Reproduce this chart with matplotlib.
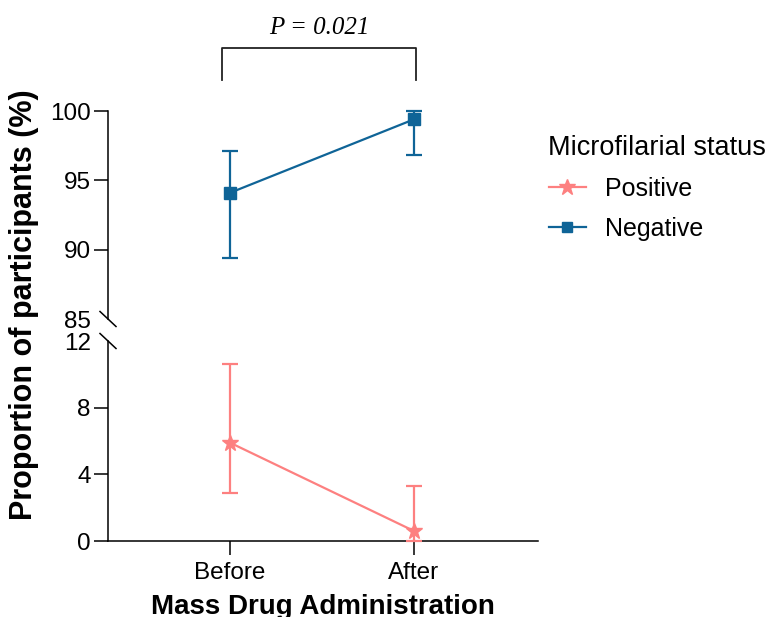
import matplotlib
matplotlib.use("Agg")
import matplotlib.pyplot as plt
from matplotlib.lines import Line2D
import numpy as np

# ---- data ----
timepoints = ["Before", "After"]
neg_mean = [94.1, 99.4]
neg_low = [89.4, 96.8]
neg_high = [97.1, 100.0]
pos_mean = [5.9, 0.6]
pos_low = [2.9, 0.0]
pos_high = [10.6, 3.3]
top_ticks = [85, 90, 95, 100]
bottom_ticks = [0, 4, 8, 12]
p_text = "P = 0.021"

neg_color = "#0f6497"
pos_color = "#fd8080"

plt.rcParams['font.family'] = ['Liberation Sans', 'DejaVu Sans']

fig = plt.figure(figsize=(7.71, 6.17), dpi=100)
left, width = 108/771, 430/771
ax_top = fig.add_axes([left, 1-319/617, width, 208/617])
ax_bot = fig.add_axes([left, 1-541/617, width, 200/617])

x = np.arange(len(timepoints))
xlim = (-0.663, 1.674)

lw = 1.6
# Negative (top)
ax_top.errorbar(x, neg_mean,
                yerr=[np.array(neg_mean)-np.array(neg_low), np.array(neg_high)-np.array(neg_mean)],
                color=neg_color, marker='s', markersize=8, lw=lw, elinewidth=lw,
                capsize=6, capthick=lw, clip_on=False)
# Positive (bottom)
ax_bot.errorbar(x, pos_mean,
                yerr=[np.array(pos_mean)-np.array(pos_low), np.array(pos_high)-np.array(pos_mean)],
                color=pos_color, marker='*', markersize=12, lw=lw, elinewidth=lw,
                capsize=6, capthick=lw, clip_on=False, zorder=3)

for ax in (ax_top, ax_bot):
    ax.set_xlim(*xlim)
    ax.spines['top'].set_visible(False)
    ax.spines['right'].set_visible(False)
    for s in ax.spines.values():
        s.set_linewidth(1.1)
    ax.tick_params(axis='both', length=10, width=1.1, labelsize=17.5, pad=2.5)

ax_top.set_ylim(85, 100)
ax_top.set_yticks(top_ticks)
ax_top.spines['bottom'].set_visible(False)
ax_top.set_xticks([])
ax_top.yaxis.get_major_ticks()[0].tick1line.set_visible(False)

ax_bot.set_ylim(0, 12)
ax_bot.set_yticks(bottom_ticks)
ax_bot.set_xticks(x)
ax_bot.set_xticklabels(timepoints)
ax_bot.tick_params(axis='x', pad=5)
ax_bot.yaxis.get_major_ticks()[-1].tick1line.set_visible(False)

# break marks
def slash(ax, y0, hpx):
    dx = 8/430
    dy = 7.5/hpx
    ax.plot([-dx, dx], [y0+dy, y0-dy], transform=ax.transAxes, color='black',
            lw=1.1, clip_on=False)
slash(ax_top, 0.0, 208)
slash(ax_bot, 1.0, 200)

# significance bracket
ax_top.plot([-0.043, -0.043, 1.01, 1.01], [102.2, 104.55, 104.55, 102.2],
            color='#222222', lw=1.3, clip_on=False)
ax_top.text(0.483, 106.0, p_text, ha='center', va='center', fontsize=18,
            family=['Liberation Serif'], style='italic')

# labels
fig.text(24/771, 1-305/617, "Proportion of participants (%)", rotation=90,
         ha='center', va='center', fontsize=22, fontweight='bold')
fig.text(323/771, 1-614/617, "Mass Drug Administration", ha='center', va='baseline',
         fontsize=20, fontweight='bold')

# legend
handles = [Line2D([], [], color=pos_color, marker='*', markersize=12, lw=lw),
           Line2D([], [], color=neg_color, marker='s', markersize=7, lw=lw)]
leg = fig.legend(handles, ["Positive", "Negative"], title="Microfilarial status",
                 loc='upper left', bbox_to_anchor=(526/771, 1-112/617), frameon=False,
                 fontsize=18, title_fontsize=19.5, alignment='left',
                 handlelength=1.5, handletextpad=0.75, labelspacing=0.65)

fig.savefig("out.png", dpi=100)
